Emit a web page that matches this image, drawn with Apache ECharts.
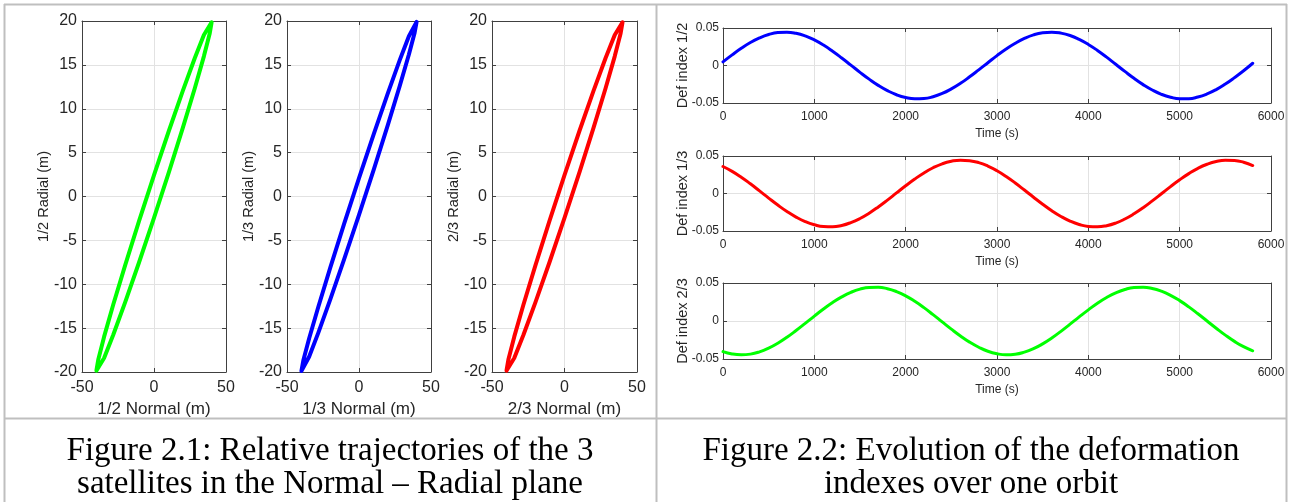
<!DOCTYPE html>
<html>
<head>
<meta charset="utf-8">
<title>Relative trajectories and deformation indexes</title>
<script src="https://cdn.jsdelivr.net/npm/echarts@6/dist/echarts.min.js"></script>
<style>
  html, body { margin: 0; padding: 0; background: #fff; }
  #chart { width: 1290px; height: 502px; }
</style>
</head>
<body>
<div id="chart"></div>
<script>
// Normal (m), Radial (m) samples around one orbit for each satellite pair
const traj12 = [[40,19.85],[38.64,19.81],[34.64,18.41],[28.28,15.76],[20,12.04],[10.35,7.49],[0,2.44],[-10.35,-2.78],[-20,-7.81],[-28.28,-12.31],[-34.64,-15.97],[-38.64,-18.54],[-40,-19.85],[-38.64,-19.81],[-34.64,-18.41],[-28.28,-15.76],[-20,-12.04],[-10.35,-7.49],[0,-2.44],[10.35,2.78],[20,7.81],[28.28,12.31],[34.64,15.97],[38.64,18.54],[40,19.85]];
const traj13 = [[40,19.89],[38.64,19.75],[34.64,18.27],[28.28,15.54],[20,11.76],[10.35,7.17],[0,2.09],[-10.35,-3.13],[-20,-8.13],[-28.28,-12.59],[-34.64,-16.18],[-38.64,-18.67],[-40,-19.89],[-38.64,-19.75],[-34.64,-18.27],[-28.28,-15.54],[-20,-11.76],[-10.35,-7.17],[0,-2.09],[10.35,3.13],[20,8.13],[28.28,12.59],[34.64,16.18],[38.64,18.67],[40,19.89]];
const traj23 = [[40,19.85],[38.64,19.81],[34.64,18.41],[28.28,15.76],[20,12.04],[10.35,7.49],[0,2.44],[-10.35,-2.78],[-20,-7.81],[-28.28,-12.31],[-34.64,-15.97],[-38.64,-18.54],[-40,-19.85],[-38.64,-19.81],[-34.64,-18.41],[-28.28,-15.76],[-20,-12.04],[-10.35,-7.49],[0,-2.44],[10.35,2.78],[20,7.81],[28.28,12.31],[34.64,15.97],[38.64,18.54],[40,19.85]];

// Time (s) samples and deformation indexes
const timeS = [0,100,200,300,400,500,600,700,800,900,1000,1100,1200,1300,1400,1500,1600,1700,1800,1900,2000,2100,2200,2300,2400,2500,2600,2700,2800,2900,3000,3100,3200,3300,3400,3500,3600,3700,3800,3900,4000,4100,4200,4300,4400,4500,4600,4700,4800,4900,5000,5100,5200,5300,5400,5500,5600,5700,5800];
const def12 = [0.0049,0.0142,0.0229,0.0306,0.0368,0.0413,0.0439,0.0444,0.0429,0.0394,0.0341,0.0272,0.0190,0.0100,0.0005,-0.0091,-0.0182,-0.0265,-0.0335,-0.0390,-0.0427,-0.0444,-0.0440,-0.0416,-0.0373,-0.0312,-0.0238,-0.0151,-0.0058,0.0037,0.0132,0.0220,0.0297,0.0361,0.0409,0.0437,0.0445,0.0432,0.0400,0.0348,0.0281,0.0201,0.0111,0.0016,-0.0079,-0.0171,-0.0255,-0.0327,-0.0384,-0.0423,-0.0443,-0.0442,-0.0420,-0.0379,-0.0321,-0.0247,-0.0162,-0.0070,0.0030];
const def13 = [0.0360,0.0295,0.0217,0.0129,0.0035,-0.0061,-0.0154,-0.0240,-0.0315,-0.0375,-0.0417,-0.0441,-0.0444,-0.0426,-0.0388,-0.0333,-0.0262,-0.0179,-0.0088,0.0008,0.0103,0.0193,0.0274,0.0343,0.0396,0.0430,0.0445,0.0438,0.0412,0.0366,0.0304,0.0227,0.0140,0.0046,-0.0050,-0.0143,-0.0230,-0.0306,-0.0368,-0.0413,-0.0439,-0.0444,-0.0429,-0.0394,-0.0340,-0.0271,-0.0190,-0.0099,-0.0004,0.0092,0.0183,0.0265,0.0336,0.0390,0.0427,0.0444,0.0440,0.0416,0.0373];
const def23 = [-0.0403,-0.0434,-0.0445,-0.0436,-0.0406,-0.0357,-0.0292,-0.0214,-0.0125,-0.0031,0.0065,0.0158,0.0243,0.0317,0.0377,0.0419,0.0441,0.0443,0.0425,0.0387,0.0331,0.0259,0.0176,0.0084,-0.0012,-0.0107,-0.0197,-0.0278,-0.0345,-0.0398,-0.0431,-0.0445,-0.0438,-0.0410,-0.0364,-0.0301,-0.0224,-0.0136,-0.0042,0.0054,0.0147,0.0234,0.0309,0.0371,0.0415,0.0440,0.0444,0.0428,0.0392,0.0338,0.0268,0.0186,0.0095,0.0000,-0.0095,-0.0186,-0.0268,-0.0338,-0.0392];

// Axis labels
const trajNames = [['1/2 Normal (m)', '1/2 Radial (m)'], ['1/3 Normal (m)', '1/3 Radial (m)'], ['2/3 Normal (m)', '2/3 Radial (m)']];
const defNames = ['Def index 1/2', 'Def index 1/3', 'Def index 2/3'];
const timeName = 'Time (s)';
const captions = [
  ['Figure 2.1: Relative trajectories of the 3', 'satellites in the Normal \u2013 Radial plane'],
  ['Figure 2.2: Evolution of the deformation', 'indexes over one orbit']
];

const GREEN = '#00ff00', BLUE = '#0000ff', RED = '#ff0000';
const BOX = '#404040', GRIDC = '#e2e2e2', TXT = '#262626';
const SANS = '"Liberation Sans", Arial, Helvetica, sans-serif';

const grids = [
  { left: 82,  top: 21,  width: 144, height: 351 },
  { left: 287, top: 21,  width: 144, height: 351 },
  { left: 492, top: 21,  width: 145, height: 351 },
  { left: 723, top: 28,  width: 548, height: 75 },
  { left: 723, top: 156, width: 548, height: 75 },
  { left: 723, top: 283, width: 548, height: 76 }
];

const xAxes = [], yAxes = [], series = [];
const plain = v => String(v);

// One boxed panel: labelled bottom/left axes plus bare top/right axes carrying inward ticks
function addPanel(gi, xs, ys, st) {
  const tick = { show: true, inside: true, length: 4, lineStyle: { color: BOX } };
  const line = { show: true, onZero: false, lineStyle: { color: BOX, width: 1 } };
  xAxes.push({
    type: 'value', gridIndex: gi, position: 'bottom', min: xs.min, max: xs.max, interval: xs.interval,
    axisLine: line, axisTick: tick,
    axisLabel: { color: TXT, fontSize: st.tick, fontFamily: SANS, margin: st.xMargin, formatter: plain },
    splitLine: { show: true, lineStyle: { color: GRIDC, width: 1 } },
    name: xs.name, nameLocation: 'middle', nameGap: st.xGap, nameMoveOverlap: false,
    nameTextStyle: { color: TXT, fontSize: st.xName, fontFamily: SANS }
  });
  xAxes.push({
    type: 'value', gridIndex: gi, position: 'top', min: xs.min, max: xs.max, interval: xs.interval,
    axisLine: line, axisTick: tick, axisLabel: { show: false }, splitLine: { show: false }
  });
  yAxes.push({
    type: 'value', gridIndex: gi, position: 'left', min: ys.min, max: ys.max, interval: ys.interval,
    axisLine: line, axisTick: tick,
    axisLabel: { color: TXT, fontSize: st.tick, fontFamily: SANS, margin: st.yMargin, formatter: plain },
    splitLine: { show: true, lineStyle: { color: GRIDC, width: 1 } },
    name: ys.name, nameLocation: 'middle', nameRotate: 90, nameGap: st.yGap, nameMoveOverlap: false,
    nameTextStyle: { color: TXT, fontSize: st.yName, fontFamily: SANS }
  });
  yAxes.push({
    type: 'value', gridIndex: gi, position: 'right', min: ys.min, max: ys.max, interval: ys.interval,
    axisLine: line, axisTick: tick, axisLabel: { show: false }, splitLine: { show: false }
  });
}

const trajStyle = { tick: 16, xMargin: 8, yMargin: 5, xName: 17, yName: 14.5, xGap: 29, yGap: 31 };
const defStyle  = { tick: 12, xMargin: 8, yMargin: 4, xName: 12, yName: 14.5, xGap: 25, yGap: 33 };

// Normal - Radial trajectories
const trajData = [traj12, traj13, traj23];
const trajColors = [GREEN, BLUE, RED];
for (let i = 0; i < 3; i++) {
  addPanel(i,
    { min: -50, max: 50, interval: 50, name: trajNames[i][0] },
    { min: -20, max: 20, interval: 5, name: trajNames[i][1] }, trajStyle);
  series.push({
    type: 'line', xAxisIndex: 2 * i, yAxisIndex: 2 * i, data: trajData[i],
    showSymbol: false, smooth: false, clip: false,
    lineStyle: { color: trajColors[i], width: 4, cap: 'round', join: 'round' }
  });
}

// Deformation indexes over one orbit
const defData = [def12, def13, def23];
const defColors = [BLUE, RED, GREEN];
for (let i = 0; i < 3; i++) {
  const gi = 3 + i;
  addPanel(gi,
    { min: 0, max: 6000, interval: 1000, name: timeName },
    { min: -0.05, max: 0.05, interval: 0.05, name: defNames[i] }, defStyle);
  series.push({
    type: 'line', xAxisIndex: 2 * gi, yAxisIndex: 2 * gi,
    data: timeS.map((t, k) => [t, defData[i][k]]),
    showSymbol: false, smooth: true, clip: false,
    lineStyle: { color: defColors[i], width: 3, cap: 'round', join: 'round' }
  });
}

// Table frame and captions
const FRAME = '#bfbfbf';
const frameLine = (x1, y1, x2, y2) => ({
  type: 'line', shape: { x1, y1, x2, y2 }, style: { stroke: FRAME, lineWidth: 2 }, silent: true
});
const capFont = '33px "Liberation Serif", "Times New Roman", serif';
const capText = (x, y, text) => ({
  type: 'text', x, y, silent: true,
  style: { text, font: capFont, fill: '#000', align: 'center', verticalAlign: 'middle' }
});

const graphic = [
  frameLine(4, 4.5, 1287, 4.5),
  frameLine(4.5, 4, 4.5, 502),
  frameLine(1286.5, 4, 1286.5, 502),
  frameLine(656.5, 4, 656.5, 502),
  frameLine(4, 418.5, 1287, 418.5),
  capText(330, 451, captions[0][0]),
  capText(330, 484, captions[0][1]),
  capText(971, 451, captions[1][0]),
  capText(971, 484, captions[1][1])
];

const chart = echarts.init(document.getElementById('chart'), null, { renderer: 'canvas' });
chart.setOption({
  animation: false,
  backgroundColor: '#fff',
  grid: grids,
  xAxis: xAxes,
  yAxis: yAxes,
  series: series,
  graphic: graphic
});
</script>
</body>
</html>
